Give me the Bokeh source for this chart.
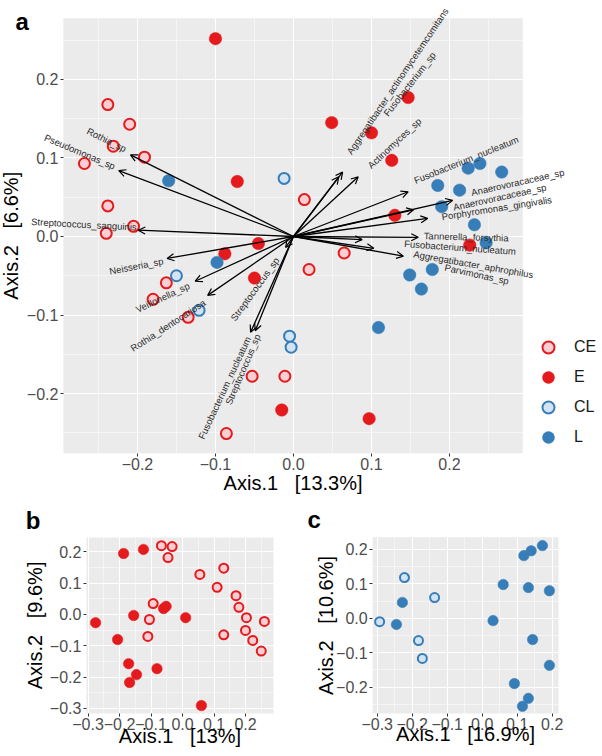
from bokeh.plotting import figure
from bokeh.models import (ColumnDataSource, Arrow, OpenHead, LabelSet, Label, Legend,
                          LegendItem, FixedTicker, Range1d)
from bokeh.core.properties import value
from bokeh.layouts import column, row
from bokeh.embed import file_html
from bokeh.resources import INLINE

FONT = "Liberation Sans"
RED = "#E41A1C"
PINK = "#F9CFD3"
BLUE = "#377EB8"
LBLUE = "#D2E3F3"
SP3 = " \u00a0 "   # three visible spaces in the axis titles

# ---------------- Panel a data ----------------
a_CE_x = [-0.238, -0.210, -0.231, -0.191, -0.268, -0.238, -0.205, -0.240, 0.014, -0.163,
          -0.180, -0.135, -0.053, -0.011, -0.086, 0.065, 0.020]
a_CE_y = [0.168, 0.143, 0.115, 0.101, 0.093, 0.039, 0.013, 0.004, 0.047, -0.059,
          -0.080, -0.103, -0.178, -0.178, -0.251, -0.021, -0.042]
a_E_x = [-0.100, -0.072, -0.045, -0.088, -0.050, -0.015, 0.097, 0.147, 0.049, 0.100,
         0.126, 0.130, 0.226]
a_E_y = [0.252, 0.070, -0.009, -0.022, -0.053, -0.221, -0.232, 0.177, 0.145, 0.132,
         0.097, 0.027, -0.011]
a_CL_x = [-0.012, -0.150, -0.121, -0.005, -0.003]
a_CL_y = [0.074, -0.050, -0.094, -0.127, -0.141]
a_L_x = [-0.160, -0.098, 0.149, 0.178, 0.164, 0.109, 0.232, 0.224, 0.239, 0.267,
         0.185, 0.213, 0.190, 0.247]
a_L_y = [0.071, -0.033, -0.049, -0.042, -0.067, -0.116, 0.015, 0.087, 0.093, 0.082,
         0.065, 0.059, 0.038, -0.008]

taxa = ["Rothia_sp", "Pseudomonas_sp", "Streptococcus_sanguinis", "Neisseria_sp",
        "Veillonella_sp", "Rothia_dentocariosa", "Streptococcus_sp",
        "Fusobacterium_nucleatum", "Streptococcus_sp",
        "Aggregatibacter_actinomycetemcomitans", "Fusobacterium_sp", "Actinomyces_sp",
        "Fusobacterium_nucleatum", "Anaerovoracaceae_sp", "Anaerovoracaceae_sp",
        "Porphyromonas_gingivalis", "Tannerella_forsythia", "Fusobacterium_nucleatum",
        "Aggregatibacter_aphrophilus", "Parvimonas_sp"]
arrow_x = [-0.209, -0.224, -0.199, -0.162, -0.126, -0.110, -0.010, -0.055, -0.049,
           0.063, 0.058, 0.083, 0.147, 0.204, 0.154, 0.172, 0.160, 0.088, 0.141, 0.103]
arrow_y = [0.104, 0.084, 0.008, -0.028, -0.057, -0.075, -0.014, -0.122, -0.120,
           0.082, 0.076, 0.076, 0.057, 0.046, 0.034, 0.023, -0.001, -0.004, -0.025, -0.015]
label_x = [-0.215, -0.229, -0.201, -0.167, -0.134, -0.114, -0.021, -0.058, -0.046,
           0.071, 0.118, 0.097, 0.155, 0.228, 0.205, 0.190, 0.167, 0.142, 0.154, 0.194]
label_y = [0.111, 0.089, 0.012, -0.031, -0.062, -0.083, -0.028, -0.128, -0.125,
           0.106, 0.155, 0.089, 0.071, 0.056, 0.037, 0.025, 0.001, -0.009, -0.022, -0.039]
label_angle = [-26.5, -23, -3, 11, 25, 33, 54, 65, 67,
               56, 52, 43, 22, 12.5, 12.5, 9, -1.5, -4, -10, -12.5]

a_xlim = (-0.295, 0.294)
a_ylim = (-0.276, 0.278)
a_xticks = [-0.2, -0.1, 0.0, 0.1, 0.2]
a_xtick_labels = ["\u22120.2", "\u22120.1", "0.0", "0.1", "0.2"]
a_xminor = [-0.25, -0.15, -0.05, 0.05, 0.15, 0.25]
a_yticks = [-0.2, -0.1, 0.0, 0.1, 0.2]
a_ytick_labels = ["\u22120.2", "\u22120.1", "0.0", "0.1", "0.2"]
a_yminor = [-0.25, -0.15, -0.05, 0.05, 0.15, 0.25]
a_xtitle = "Axis.1" + SP3 + "[13.3%]"
a_ytitle = "Axis.2" + SP3 + "[6.6%]"
groups = ["CE", "E", "CL", "L"]

# ---------------- Panel b data ----------------
b_E_x = [-0.187, -0.124, -0.060, -0.052, -0.155, 0.010, -0.276, -0.206, -0.171, -0.146,
         -0.168, -0.081, 0.060]
b_E_y = [0.195, 0.208, 0.019, 0.026, -0.003, -0.010, -0.026, -0.080, -0.157, -0.192,
         -0.217, -0.173, -0.291]
b_CE_x = [-0.067, -0.033, -0.046, 0.055, 0.131, 0.110, 0.170, 0.179, 0.203, 0.260,
          0.200, 0.223, 0.250, 0.131, -0.093, -0.105, -0.110]
b_CE_y = [0.220, 0.217, 0.182, 0.128, 0.148, 0.087, 0.060, 0.023, -0.010, -0.022,
          -0.051, -0.083, -0.117, -0.065, 0.035, -0.016, -0.070]
b_xlim = (-0.305, 0.289)
b_ylim = (-0.316, 0.246)
b_xticks = [-0.3, -0.2, -0.1, 0.0, 0.1, 0.2]
b_xtick_labels = ["\u22120.3", "\u22120.2", "\u22120.1", "0.0", "0.1", "0.2"]
b_xminor = [-0.25, -0.15, -0.05, 0.05, 0.15, 0.25]
b_yticks = [-0.3, -0.2, -0.1, 0.0, 0.1, 0.2]
b_ytick_labels = ["\u22120.3", "\u22120.2", "\u22120.1", "0.0", "0.1", "0.2"]
b_yminor = [-0.25, -0.15, -0.05, 0.05, 0.15]
b_xtitle = "Axis.1" + SP3 + "[13%]"
b_ytitle = "Axis.2" + SP3 + "[9.6%]"

# ---------------- Panel c data ----------------
c_CL_x = [-0.293, -0.222, -0.136, -0.182, -0.171]
c_CL_y = [-0.010, 0.118, 0.060, -0.065, -0.117]
c_L_x = [-0.245, -0.228, 0.031, 0.060, 0.119, 0.140, 0.172, 0.132, 0.192, 0.144,
         0.192, 0.092, 0.132, 0.115]
c_L_y = [-0.018, 0.046, -0.007, 0.098, 0.182, 0.196, 0.211, 0.089, 0.080, -0.062,
         -0.137, -0.190, -0.233, -0.256]
c_xlim = (-0.313, 0.218)
c_ylim = (-0.277, 0.235)
c_xticks = [-0.3, -0.2, -0.1, 0.0, 0.1, 0.2]
c_xtick_labels = ["\u22120.3", "\u22120.2", "\u22120.1", "0.0", "0.1", "0.2"]
c_xminor = [-0.25, -0.15, -0.05, 0.05, 0.15]
c_yticks = [-0.2, -0.1, 0.0, 0.1, 0.2]
c_ytick_labels = ["\u22120.2", "\u22120.1", "0.0", "0.1", "0.2"]
c_yminor = [-0.25, -0.15, -0.05, 0.05, 0.15]
c_xtitle = "Axis.1" + SP3 + "[16.9%]"
c_ytitle = "Axis.2" + SP3 + "[10.6%]"


def panel(w, h, xr, yr, xlim, ylim, xt, xl, xm, yt, yl, ym, tick_size):
    """Figure whose frame fills the canvas; the grey panel spans xlim x ylim and the
    axes are pinned to its left / bottom edges."""
    p = figure(width=w, height=h, x_range=Range1d(*xr), y_range=Range1d(*yr),
               min_border=0, output_backend="svg", toolbar_location=None, title=None)
    p.background_fill_color = "white"
    p.border_fill_color = "white"
    p.outline_line_color = None
    p.quad(left=[xlim[0]], right=[xlim[1]], bottom=[ylim[0]], top=[ylim[1]],
           fill_color="#EBEBEB", line_color=None, level="image")
    p.xaxis.ticker = FixedTicker(ticks=xt, minor_ticks=xm)
    p.yaxis.ticker = FixedTicker(ticks=yt, minor_ticks=ym)
    p.xaxis.major_label_overrides = dict(zip(xt, xl))
    p.yaxis.major_label_overrides = dict(zip(yt, yl))
    p.xaxis.fixed_location = ylim[0]
    p.yaxis.fixed_location = xlim[0]
    for g in (p.xgrid, p.ygrid):
        g.grid_line_color = "white"
        g.grid_line_width = 1.1
        g.minor_grid_line_color = "white"
        g.minor_grid_line_width = 0.5
    for ax in (p.xaxis, p.yaxis):
        ax.axis_line_color = None
        ax.major_tick_line_color = "#333333"
        ax.major_tick_out = 3
        ax.major_tick_in = 0
        ax.minor_tick_line_color = None
        ax.major_label_text_font = FONT
        ax.major_label_text_font_size = tick_size
        ax.major_label_text_color = "#4D4D4D"
        ax.major_label_standoff = 1
    return p


def titles(p, xlim, xt_y, xtitle, yt_pos, ytitle, letter, lx, ly, size="20px"):
    p.add_layout(Label(x=(xlim[0] + xlim[1]) / 2, y=xt_y, text=xtitle, text_font=FONT,
                       text_font_size=size, text_align="center",
                       text_baseline="middle", text_color="black"))
    p.add_layout(Label(x=yt_pos[0], y=yt_pos[1], text=ytitle, text_font=FONT,
                       text_font_size=size, text_align="center", angle=90,
                       angle_units="deg", text_baseline="middle", text_color="black"))
    p.add_layout(Label(x=lx, y=ly, text=letter, text_font=FONT, text_font_size="24px",
                       text_font_style="bold", text_baseline="middle",
                       text_color="black"))


# ---------------- Panel a ----------------
pa = panel(602, 495, (-0.3756, 0.3962), (-0.3299, 0.3006), a_xlim, a_ylim,
           a_xticks, a_xtick_labels, a_xminor, a_yticks, a_ytick_labels, a_yminor, "16px")
titles(pa, a_xlim, -0.3135, a_xtitle, (-0.3621, (a_ylim[0] + a_ylim[1]) / 2), a_ytitle,
       "a", -0.3564, 0.2743)

r_ce = pa.scatter(a_CE_x, a_CE_y, size=11, fill_color=PINK, line_color=RED, line_width=2)
r_e = pa.scatter(a_E_x, a_E_y, size=12.5, fill_color=RED, line_color=RED, line_width=0.5)
r_cl = pa.scatter(a_CL_x, a_CL_y, size=11, fill_color=LBLUE, line_color=BLUE, line_width=2)
r_l = pa.scatter(a_L_x, a_L_y, size=12.5, fill_color=BLUE, line_color=BLUE, line_width=0.5)

arrow_src = ColumnDataSource(dict(x0=[0.0] * len(arrow_x), y0=[0.0] * len(arrow_y),
                                  x1=arrow_x, y1=arrow_y))
pa.add_layout(Arrow(end=OpenHead(size=7, line_width=1.2, line_color="black"),
                    x_start="x0", y_start="y0", x_end="x1", y_end="y1",
                    line_width=1.3, line_color="black", source=arrow_src))

lab_src = ColumnDataSource(dict(x=label_x, y=label_y, text=taxa, angle=label_angle,
                                align=["right" if v < 0 else "left" for v in label_x]))
pa.add_layout(LabelSet(x="x", y="y", text="text", angle="angle", angle_units="deg",
                       text_align="align", text_baseline="middle", source=lab_src,
                       text_font=value(FONT), text_font_size=value("9.5px"),
                       text_color="#2b2b2b"))

bg = pa.quad(left=[], right=[], top=[], bottom=[], fill_color="#F2F2F2", line_color=None)
legend = Legend(items=[LegendItem(label=g, renderers=[bg, r])
                       for g, r in zip(groups, [r_ce, r_e, r_cl, r_l])],
                location=(533, 43), glyph_width=30, glyph_height=30, spacing=0,
                padding=0, margin=0, label_standoff=11, border_line_color=None,
                background_fill_alpha=0, label_text_font=FONT,
                label_text_font_size="16px", label_text_color="#1a1a1a")
pa.add_layout(legend, "center")

# ---------------- Panel b ----------------
pb = panel(300, 261, (-0.5778, 0.3746), (-0.4537, 0.3802), b_xlim, b_ylim,
           b_xticks, b_xtick_labels, b_xminor, b_yticks, b_ytick_labels, b_yminor, "16px")
titles(pb, b_xlim, -0.3869, b_xtitle, (-0.4695, (b_ylim[0] + b_ylim[1]) / 2), b_ytitle,
       "b", -0.498, 0.3013)
pb.scatter(b_E_x, b_E_y, size=10.5, fill_color=RED, line_color=RED, line_width=0.5)
pb.scatter(b_CE_x, b_CE_y, size=9, fill_color=PINK, line_color=RED, line_width=2)

# ---------------- Panel c ----------------
pc = panel(302, 261, (-0.5191, 0.3437), (-0.4020, 0.3567), c_xlim, c_ylim,
           c_xticks, c_xtick_labels, c_xminor, c_yticks, c_ytick_labels, c_yminor, "16px")
titles(pc, c_xlim, -0.3355, c_xtitle, (-0.4474, (c_ylim[0] + c_ylim[1]) / 2), c_ytitle,
       "c", -0.499, 0.2878)
pc.scatter(c_CL_x, c_CL_y, size=9, fill_color=LBLUE, line_color=BLUE, line_width=2)
pc.scatter(c_L_x, c_L_y, size=10.5, fill_color=BLUE, line_color=BLUE, line_width=0.5)

layout = column(pa, row(pb, pc))
open("out.html", "w").write(file_html(layout, INLINE))
